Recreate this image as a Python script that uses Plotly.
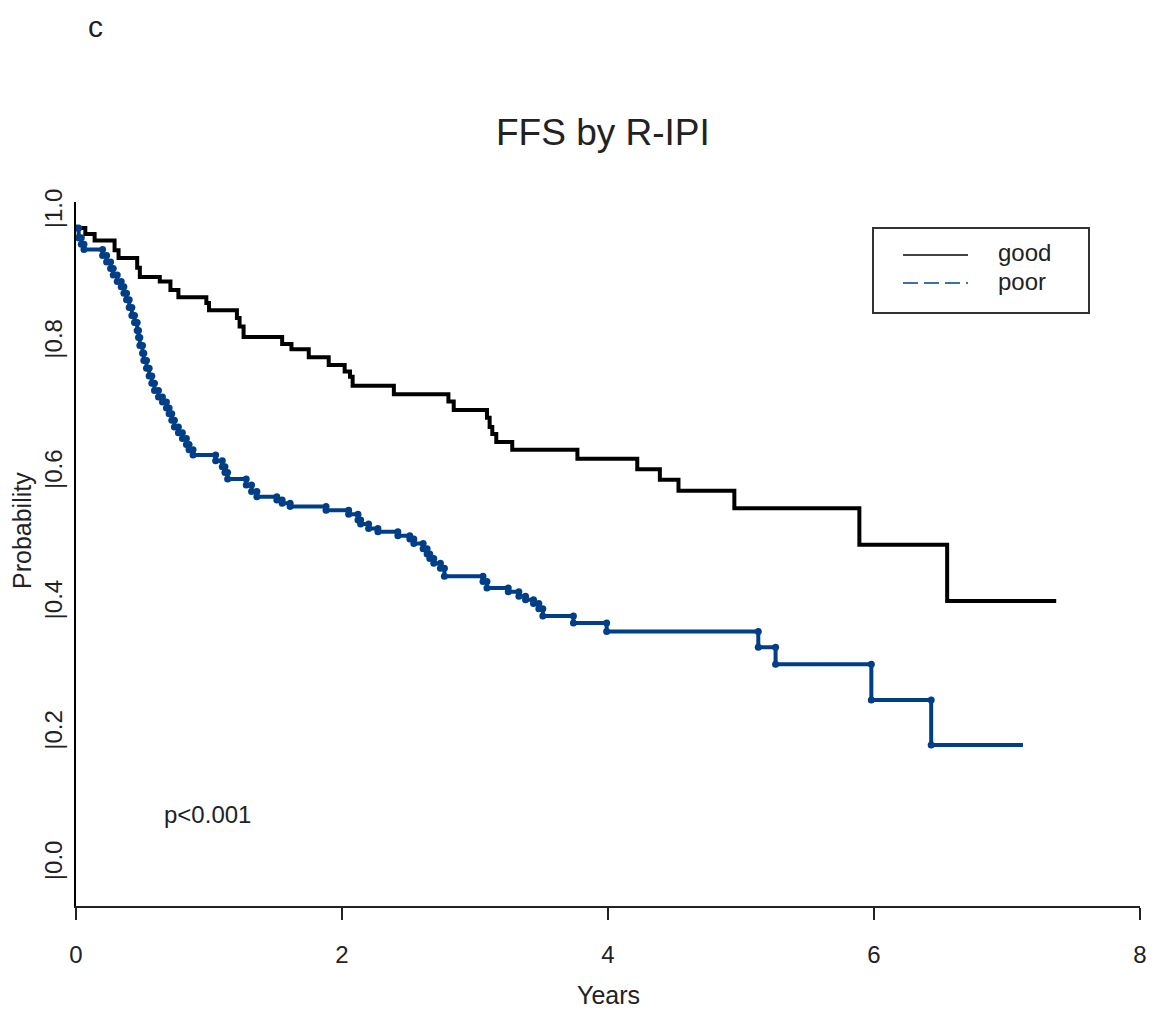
import plotly.graph_objects as go

# ---- data ----
good_times = [0.07, 0.14, 0.29, 0.32, 0.46, 0.48, 0.63, 0.71, 0.77, 0.98, 1.00, 1.21, 1.23, 1.26,
              1.55, 1.62, 1.75, 1.90, 2.02, 2.06, 2.08, 2.39, 2.80, 2.84, 3.09, 3.11, 3.13, 3.16,
              3.28, 3.77, 4.22, 4.39, 4.53, 4.95, 5.89, 6.55]
good_surv = [0.991, 0.981, 0.966, 0.954, 0.939, 0.925, 0.918, 0.905, 0.894, 0.885, 0.874, 0.862,
             0.849, 0.833, 0.822, 0.814, 0.802, 0.790, 0.780, 0.772, 0.758, 0.745, 0.734, 0.721,
             0.709, 0.695, 0.684, 0.672, 0.660, 0.646, 0.630, 0.614, 0.597, 0.570, 0.514, 0.428]
good_end = 7.37

poor_times = [0.02, 0.04, 0.06, 0.20, 0.23, 0.26, 0.28, 0.31, 0.34, 0.36, 0.38, 0.40, 0.42, 0.44,
              0.46, 0.47, 0.48, 0.50, 0.51, 0.53, 0.55, 0.57, 0.59, 0.62, 0.65, 0.68, 0.70, 0.72,
              0.74, 0.77, 0.80, 0.83, 0.85, 0.88, 1.05, 1.10, 1.12, 1.14, 1.28, 1.32, 1.36, 1.51,
              1.55, 1.61, 1.88, 2.05, 2.12, 2.14, 2.20, 2.27, 2.42, 2.51, 2.54, 2.61, 2.64, 2.66,
              2.69, 2.74, 2.77, 3.06, 3.09, 3.25, 3.33, 3.38, 3.44, 3.48, 3.51, 3.74, 3.99, 5.13,
              5.26, 5.98, 6.43]
poor_surv = [0.985, 0.975, 0.967, 0.958, 0.948, 0.938, 0.928, 0.918, 0.910, 0.900, 0.890, 0.878,
             0.866, 0.855, 0.843, 0.832, 0.820, 0.808, 0.797, 0.785, 0.773, 0.762, 0.751, 0.741,
             0.733, 0.724, 0.715, 0.705, 0.695, 0.686, 0.677, 0.668, 0.660, 0.652, 0.643, 0.634,
             0.625, 0.615, 0.606, 0.596, 0.588, 0.583, 0.578, 0.573, 0.567, 0.561, 0.552, 0.546,
             0.539, 0.534, 0.528, 0.523, 0.516, 0.508, 0.500, 0.493, 0.486, 0.478, 0.466, 0.458,
             0.448, 0.442, 0.435, 0.430, 0.424, 0.416, 0.405, 0.394, 0.381, 0.357, 0.331, 0.276,
             0.207]
poor_end = 7.12

x_ticks = [0, 2, 4, 6, 8]
y_ticks = [0.0, 0.2, 0.4, 0.6, 0.8, 1.0]
y_ticktext = ["|0.0", "|0.2", "|0.4", "|0.6", "|0.8", "|1.0"]

FONT = "Liberation Sans, Arial, sans-serif"
TXT = "#222222"
BLUE = "#003f87"

def step_xy(times, surv, end):
    xs, ys = [0.0], [1.0]
    prev = 1.0
    for t, s in zip(times, surv):
        xs += [t, t]
        ys += [prev, s]
        prev = s
    xs.append(end)
    ys.append(prev)
    return xs, ys

gx, gy = step_xy(good_times, good_surv, good_end)
px_, py_ = step_xy(poor_times, poor_surv, poor_end)

fig = go.Figure()
fig.add_trace(go.Scatter(x=gx, y=gy, mode="lines", line=dict(color="#000000", width=4),
                         showlegend=False, hoverinfo="skip"))
fig.add_trace(go.Scatter(x=px_, y=py_, mode="lines", line=dict(color=BLUE, width=4),
                         showlegend=False, hoverinfo="skip"))
fig.add_trace(go.Scatter(x=px_[:-1], y=py_[:-1], mode="markers",
                         marker=dict(color=BLUE, size=7), showlegend=False, hoverinfo="skip"))

# page body has an 8px margin, so the figure is offset by (8, 8)
fig.update_layout(
    width=1160, height=1015,
    margin=dict(l=68, r=28, t=194, b=117, autoexpand=False),
    plot_bgcolor="white", paper_bgcolor="white",
    font=dict(family=FONT, color=TXT),
    showlegend=False,
)
fig.update_xaxes(range=[0, 8], tickvals=x_ticks, ticktext=[str(v) for v in x_ticks],
                 showline=True, linecolor=TXT, linewidth=2, ticks="outside", ticklen=12,
                 tickwidth=2, tickcolor=TXT, showgrid=False, zeroline=False,
                 tickfont=dict(size=24, family=FONT, color=TXT), ticklabelstandoff=14,
                 automargin=False)
fig.update_yaxes(range=[-0.04, 1.04], tickvals=y_ticks, ticktext=y_ticktext, tickangle=-90,
                 showline=True, linecolor="#000000", linewidth=2, ticks="", showgrid=False,
                 zeroline=False, tickfont=dict(size=24, family=FONT, color=TXT),
                 ticklabelshift=-16, ticklabelstandoff=2, automargin=False)

ann = []
ann.append(dict(text="FFS by R-IPI", xref="paper", yref="paper", x=0.4953, y=1.0994,
                showarrow=False, font=dict(size=37, family=FONT, color=TXT),
                xanchor="center", yanchor="middle"))
ann.append(dict(text="c", xref="paper", yref="paper", x=0.0179, y=1.250,
                showarrow=False, font=dict(size=30, family=FONT, color=TXT),
                xanchor="center", yanchor="middle", borderpad=0))
ann.append(dict(text="Years", xref="paper", yref="paper", x=0.5, y=-0.1264,
                showarrow=False, font=dict(size=25, family=FONT, color=TXT),
                xanchor="center", yanchor="middle"))
ann.append(dict(text="Probability", xref="paper", yref="paper", x=-0.0508, y=0.534,
                showarrow=False, textangle=-90, font=dict(size=25, family=FONT, color=TXT),
                xanchor="center", yanchor="middle"))
ann.append(dict(text="p<0.001", xref="x", yref="y", x=0.65, y=0.10,
                showarrow=False, font=dict(size=24, family=FONT, color=TXT),
                xanchor="left", yanchor="middle"))

# custom legend (paper coords from screen pixel positions of the plot area)
def pxx(p):
    return (p - 76) / 1064
def pxy(p):
    return (906 - p) / 704

shapes = [
    dict(type="rect", xref="paper", yref="paper", x0=pxx(873), x1=pxx(1089), y0=pxy(313), y1=pxy(228),
         line=dict(color="#333333", width=2), fillcolor="rgba(0,0,0,0)"),
    dict(type="line", xref="paper", yref="paper", x0=pxx(903), x1=pxx(968), y0=pxy(255), y1=pxy(255),
         line=dict(color="#444444", width=2)),
    dict(type="line", xref="paper", yref="paper", x0=pxx(903), x1=pxx(968), y0=pxy(283), y1=pxy(283),
         line=dict(color="#3a6fb0", width=2, dash="15px,6px")),
]
ann.append(dict(text="good", xref="paper", yref="paper", x=pxx(996), y=pxy(253), showarrow=False,
                font=dict(size=24, family=FONT, color=TXT), xanchor="left", yanchor="middle"))
ann.append(dict(text="poor", xref="paper", yref="paper", x=pxx(996), y=pxy(281), showarrow=False,
                font=dict(size=24, family=FONT, color=TXT), xanchor="left", yanchor="middle"))

fig.update_layout(annotations=ann, shapes=shapes)
fig.write_html("out.html")
